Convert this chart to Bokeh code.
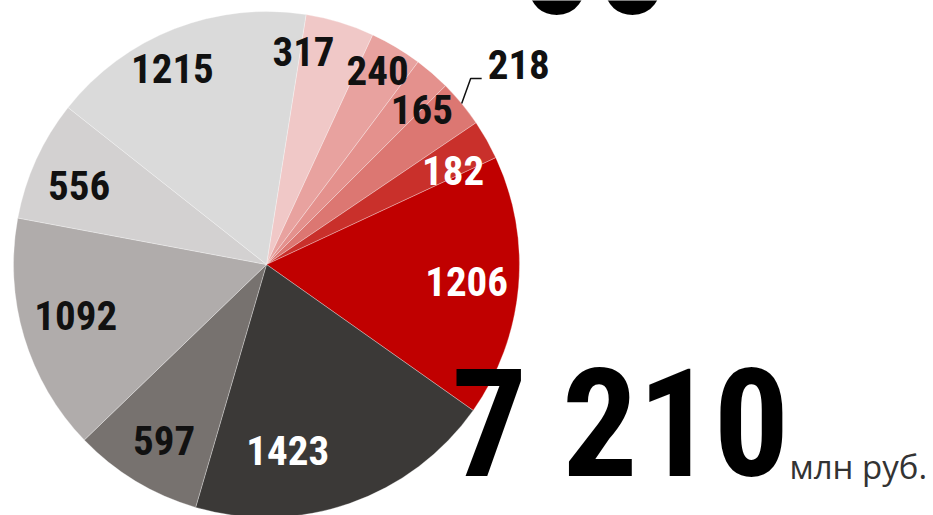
import math
from bokeh.plotting import figure
from bokeh.models import Range1d, ColumnDataSource
from bokeh.core.properties import value
from bokeh.embed import file_html
from bokeh.resources import INLINE

# ---- data ----
values = [317, 240, 165, 218, 182, 1206, 1423, 597, 1092, 556, 1215]
labels = ["317", "240", "165", "218", "182", "1206", "1423", "597", "1092", "556", "1215"]
colors = ["#f0c8c7", "#e8a29f", "#e4918d", "#dc7772", "#c9302b", "#c00000",
          "#3b3937", "#77726f", "#b0acab", "#d3d1d1", "#dadada"]
label_colors = ["#111111", "#111111", "#111111", "#111111", "#ffffff", "#ffffff",
                "#ffffff", "#111111", "#111111", "#111111", "#111111"]
total_text = "7 210"
unit_text = "млн руб."
top_text = "00"

# ---- layout ----
W, H = 933, 515
def sy(v):  # screen y -> data y
    return H - v

CX, CY, R = 266, sy(264), 253
START = 9.0  # degrees clockwise from 12 o'clock
label_dang = [-7, -0.8, 4.5, 0, 3.3, 0.3, 12.8, -1.2, 1.2, -1.9, -4.5]
label_r = [215, 222, 218, 0, 208, 201, 189, 205, 198, 203, 216]
outside = 3  # index of label drawn outside with leader
COND = value("'Roboto Condensed', 'Noto Sans ExtraCondensed', 'Liberation Sans Narrow', "
             "'Noto Sans Condensed', 'Liberation Sans', sans-serif")
LBL_FS = 41
BASE_FIX = 0.35  # empirical baseline correction (em)
LBL_LIFT = 2

total = sum(values)
theta0, theta1 = [], []
acc = START
for v in values:
    theta0.append(acc)
    acc += v / total * 360.0
    theta1.append(acc)

def math_ang(t):
    return math.radians(90.0 - t)

src = ColumnDataSource(dict(
    start=[math_ang(t) for t in theta0],
    end=[math_ang(t) for t in theta1],
    color=colors,
))

p = figure(width=W, height=H, output_backend="svg", toolbar_location=None,
           x_range=Range1d(0, W), y_range=Range1d(0, H),
           min_border=0, x_axis_location=None, y_axis_location=None,
           background_fill_color="white", border_fill_color="white")
p.outline_line_color = None
p.xgrid.visible = False
p.ygrid.visible = False

p.wedge(x=CX, y=CY, radius=R, start_angle="start", end_angle="end",
        direction="clock", fill_color="color", line_color="white",
        line_width=0.6, line_alpha=0.5, source=src)

def base(center_y, fs):
    # data y for alphabetic baseline so that digits are centred on center_y
    return center_y - 0.36 * fs + BASE_FIX * fs + LBL_LIFT

# labels inside
lx, ly, lt, lc = [], [], [], []
for i, v in enumerate(values):
    if i == outside:
        continue
    mid = (theta0[i] + theta1[i]) / 2 + label_dang[i]
    a = math.radians(mid)
    x = CX + label_r[i] * math.sin(a)
    y = CY + label_r[i] * math.cos(a)
    lx.append(x)
    ly.append(base(y, LBL_FS))
    lt.append(labels[i])
    lc.append(label_colors[i])
p.text(x=lx, y=ly, text=lt, text_color=lc, text_font=COND, text_font_style="bold",
       text_font_size=f"{LBL_FS}px", text_align="center", text_baseline="alphabetic")

# outside label with leader
i = outside
mid = math.radians((theta0[i] + theta1[i]) / 2)
x0 = CX + R * math.sin(mid)
y0 = CY + R * math.cos(mid)
x1, y1 = x0 + 9, y0 + 25
x2 = x1 + 11
p.line(x=[x0, x1, x2], y=[y0, y1, y1], line_color="#111111", line_width=1.5)
p.text(x=[x2 + 6], y=[base(y1 + 12, LBL_FS)], text=[labels[i]], text_color=label_colors[i],
       text_font=COND, text_font_style="bold", text_font_size=f"{LBL_FS}px",
       text_align="left", text_baseline="alphabetic")

# big total
BIG = 150
p.text(x=[451], y=[sy(477) + BASE_FIX * BIG], text=[total_text], text_color="#000000",
       text_font=COND, text_font_style="bold", text_font_size=f"{BIG}px",
       text_align="left", text_baseline="alphabetic")
p.text(x=[789], y=[sy(478) + BASE_FIX * 33], text=[unit_text], text_color="#333333",
       text_font=value("Open Sans"), text_font_size="33px", text_align="left",
       text_baseline="alphabetic")
# cut-off heading at top
p.text(x=[594], y=[sy(12) + BASE_FIX * BIG], text=[top_text], text_color="#000000",
       text_font=COND, text_font_style="bold", text_font_size=f"{BIG}px",
       text_align="center", text_baseline="alphabetic")

open("out.html", "w").write(file_html(p, INLINE))
